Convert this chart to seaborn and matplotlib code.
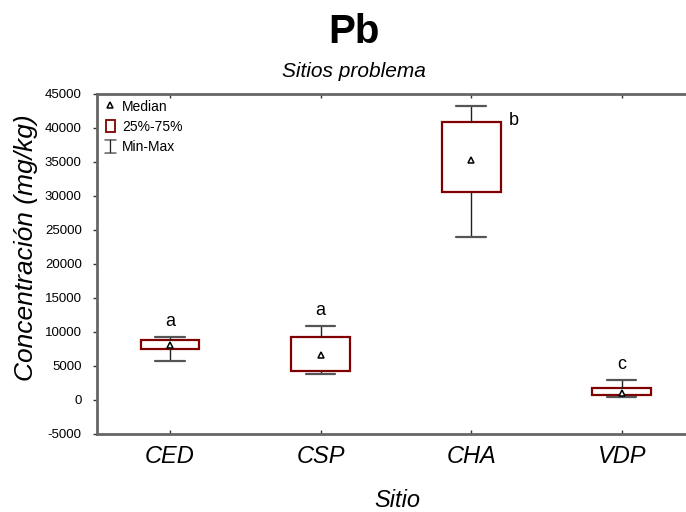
import numpy as np
import pandas as pd
import matplotlib
matplotlib.use("Agg")
import matplotlib.pyplot as plt
import seaborn as sns
from matplotlib.lines import Line2D
from matplotlib.patches import Rectangle

sns.set_theme(style="white")
plt.rcParams['font.family'] = ['Liberation Sans', 'DejaVu Sans']
plt.rcParams['text.color'] = 'black'
plt.rcParams['axes.labelcolor'] = 'black'
plt.rcParams['xtick.color'] = 'black'
plt.rcParams['ytick.color'] = 'black'

sites = ["CED", "CSP", "CHA", "VDP"]
mins = [5800, 3800, 23900, 400]
q1s = [7500, 4300, 30600, 740]
medians = [8100, 6600, 35300, 990]
q3s = [8800, 9300, 40900, 1810]
maxs = [9300, 10900, 43300, 2940]
letters = ["a", "a", "b", "c"]

rows = []
for s, a, b, c, d, e in zip(sites, mins, q1s, medians, q3s, maxs):
    for v in (a, b, c, d, e):
        rows.append({"Sitio": s, "Conc": v})
df = pd.DataFrame(rows)

fig = plt.figure(figsize=(6.86, 5.12), dpi=100)
ax = fig.add_axes([97/686, 1-434/512, 600/686, 340/512])

dark_red = "#800000"
sns.boxplot(data=df, x="Sitio", y="Conc", order=sites, whis=(0, 100), width=0.39,
            ax=ax, color="white", linecolor=dark_red, showfliers=False,
            boxprops=dict(edgecolor=dark_red, linewidth=1.6, facecolor="white"),
            whiskerprops=dict(color="#222222", linewidth=1.0),
            capprops=dict(color="#555555", linewidth=1.6),
            medianprops=dict(linewidth=0))

sns.pointplot(data=df, x="Sitio", y="Conc", order=sites, estimator=np.median,
              errorbar=None, linestyle="none", marker="^", color="black",
              markersize=5, markerfacecolor="white", markeredgecolor="black",
              markeredgewidth=1.1, ax=ax)

ax.set_xlim(-0.485, 3.5)
ax.set_ylim(-5000, 45000)
ax.set_yticks(np.arange(-5000, 45001, 5000))
ax.set_yticklabels([str(v) for v in range(-5000, 45001, 5000)], fontsize=9.5)
ax.set_xticks(range(len(sites)))
ax.set_xticklabels(sites, fontsize=17, style="italic")
ax.tick_params(axis="y", direction="out", length=3, width=1, color="#333333", pad=8, left=True)
ax.tick_params(axis="x", direction="in", length=3, width=1, color="#333333", pad=8, bottom=True, top=True)
ax.set_xlabel("Sitio", fontsize=17, style="italic", labelpad=15)
ax.set_ylabel("Concentración (mg/kg)", fontsize=19, style="italic")
ax.yaxis.set_label_coords(-0.098, 0.549)
for side in ["left", "bottom", "top", "right"]:
    ax.spines[side].set_visible(True)
    ax.spines[side].set_color("#666666")
    ax.spines[side].set_linewidth(2)

# group letters
for i, (lt, mx) in enumerate(zip(letters, maxs)):
    if lt == "b":
        ax.annotate(lt, (i, q3s[i]), xytext=(31, 1), textcoords="offset points",
                    ha="center", va="center", fontsize=13)
    else:
        ax.annotate(lt, (i, mx), xytext=(0, 11), textcoords="offset points",
                    ha="center", va="center", fontsize=13)

handles = [
    Line2D([], [], linestyle="none", marker="^", markersize=4.5, markerfacecolor="white",
           markeredgecolor="black", markeredgewidth=1.1),
    Rectangle((0, 0), 1, 1, facecolor="white", edgecolor=dark_red, linewidth=1.3),
    Line2D([], [], linestyle="none", marker="$\u2336$", markersize=10, color="#222222",
           markeredgewidth=0.2),
]
leg = ax.legend(handles, ["Median", "25%-75%", "Min-Max"], loc="upper left",
                frameon=False, fontsize=10, handlelength=0.7, handleheight=1.0,
                handletextpad=0.5, labelspacing=0.45, borderaxespad=0.2,
                borderpad=0.2, bbox_to_anchor=(0.005, 1.0))

fig.text(354/686, 1-43/512, "Pb", ha="center", va="baseline", fontsize=29, fontweight="bold")
fig.text(354/686, 1-77/512, "Sitios problema", ha="center", va="baseline", fontsize=15, style="italic")

fig.savefig("out.png", dpi=100)
